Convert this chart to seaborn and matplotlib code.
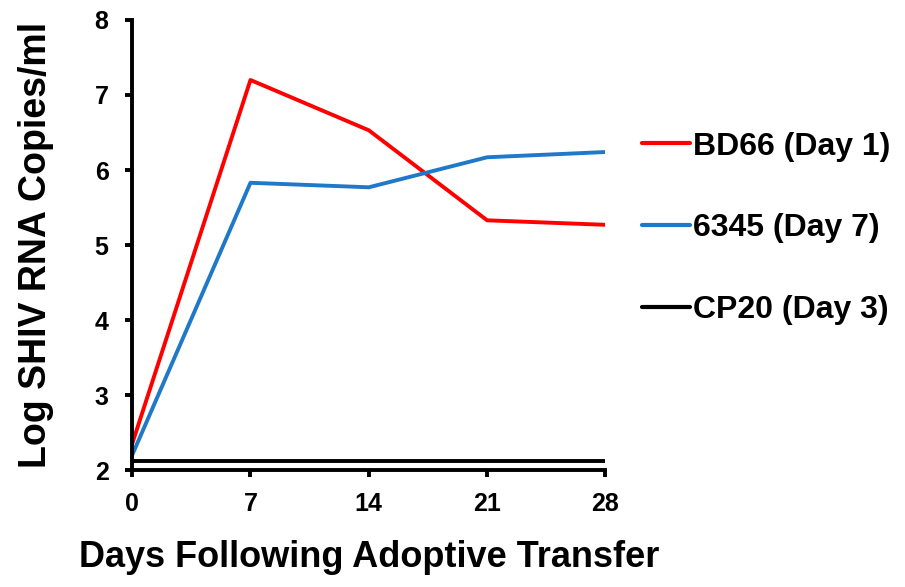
import matplotlib.pyplot as plt
import seaborn as sns
import pandas as pd

days = [0, 7, 14, 21, 28]
bd66 = [2.35, 7.2, 6.53, 5.33, 5.27]
s6345 = [2.2, 5.83, 5.77, 6.17, 6.24]
cp20 = [2.12, 2.12, 2.12, 2.12, 2.12]
names = ['BD66 (Day 1)', '6345 (Day 7)', 'CP20 (Day 3)']
colors = ['#FF0000', '#1F78C8', '#000000']

df = pd.DataFrame({
    'day': days * 3,
    'value': bd66 + s6345 + cp20,
    'animal': [names[0]] * 5 + [names[1]] * 5 + [names[2]] * 5,
})

sns.set_style('ticks', {'text.color': 'black', 'axes.labelcolor': 'black',
                        'xtick.color': 'black', 'ytick.color': 'black',
                        'axes.edgecolor': 'black'})
plt.rcParams['font.family'] = ['Liberation Sans', 'DejaVu Sans']
plt.rcParams['font.weight'] = 'bold'

fig = plt.figure(figsize=(9.05, 5.87), dpi=100)
ax = fig.add_axes([0.146, 0.199, 0.523, 0.767])
sns.lineplot(data=df, x='day', y='value', hue='animal', hue_order=names,
             palette=colors, linewidth=2.8, ax=ax)

ax.set_xlim(0, 28)
ax.set_ylim(2, 8)
ax.set_xticks(days)
ax.set_yticks(range(2, 9))
ax.tick_params(labelsize=18, width=2.8, length=5, direction='out')
ax.tick_params(axis='x', pad=11)
ax.tick_params(axis='y', pad=12)
for lab in ax.get_xticklabels() + ax.get_yticklabels():
    lab.set_fontweight('bold')
for s in ['top', 'right']:
    ax.spines[s].set_visible(False)
for s in ['left', 'bottom']:
    ax.spines[s].set_linewidth(2.8)

ax.set_xlabel('Days Following Adoptive Transfer', fontsize=26, fontweight='bold', labelpad=17)
ax.set_ylabel('Log SHIV RNA Copies/ml', fontsize=27, fontweight='bold', labelpad=29)

leg = ax.legend(loc='center left', bbox_to_anchor=(1.078, 0.537), frameon=False,
                fontsize=23, labelspacing=1.62, handlelength=1.5, handletextpad=0.1,
                borderaxespad=0, borderpad=0)
for line in leg.get_lines():
    line.set_linewidth(3)
for t in leg.get_texts():
    t.set_fontweight('bold')

fig.savefig('out.png', dpi=100)
